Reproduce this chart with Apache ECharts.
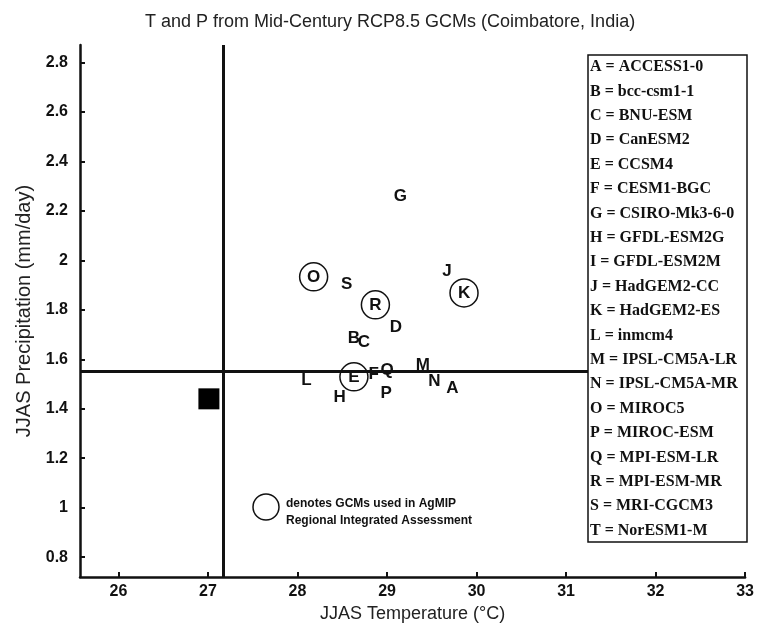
<!DOCTYPE html>
<html><head><meta charset="utf-8">
<script src="https://cdn.jsdelivr.net/npm/echarts@6/dist/echarts.min.js"></script>
<style>html,body{margin:0;padding:0;background:#fff}#c{width:757px;height:634px}</style>
</head><body><div id="c"></div>
<script>
// GCM letters plotted and their mid-century JJAS temperature / precipitation
const letters = ['A','B','C','D','E','F','G','H','J','K','L','M','N','O','P','Q','R','S'];
const temps   = [29.73,28.63,28.74,29.10,28.63,28.85,29.15,28.47,29.67,29.86,28.10,29.40,29.53,28.18,28.99,29.00,28.87,28.55];
const precs   = [1.482,1.685,1.667,1.728,1.529,1.540,2.257,1.448,1.955,1.868,1.513,1.577,1.509,1.933,1.464,1.554,1.820,1.901];
// GCMs used in AgMIP Regional Integrated Assessment (circled)
const agmipLetters = ['E','K','O','R'];
// Baseline (black square)
const baselineTemp = [27.01];
const baselinePrec = [1.44];
// Reference lines
const refTemp = 27.17;
const refPrec = 1.555;
// Legend key
const keyLetters = ['A','B','C','D','E','F','G','H','I','J','K','L','M','N','O','P','Q','R','S','T'];
const keyModels = ['ACCESS1-0','bcc-csm1-1','BNU-ESM','CanESM2','CCSM4','CESM1-BGC','CSIRO-Mk3-6-0','GFDL-ESM2G','GFDL-ESM2M','HadGEM2-CC','HadGEM2-ES','inmcm4','IPSL-CM5A-LR','IPSL-CM5A-MR','MIROC5','MIROC-ESM','MPI-ESM-LR','MPI-ESM-MR','MRI-CGCM3','NorESM1-M'];
// Tick labels
const xTicks = [26,27,28,29,30,31,32,33];
const yTicks = [0.8,1,1.2,1.4,1.6,1.8,2,2.2,2.4,2.6,2.8];

const ink = '#111';
const letterData = letters.map((l,i)=>({name:l, value:[temps[i],precs[i]]}));
const circleData = agmipLetters.map(l=>{const i=letters.indexOf(l);return [temps[i],precs[i]];});

const keyGraphics = keyLetters.map((l,i)=>({
  type:'text', z:101, left:590, top:59+i*24.4,
  style:{text:l+' = '+keyModels[i], font:'bold 16px "Liberation Serif"', fill:ink}
}));

const chart = echarts.init(document.getElementById('c'));
chart.setOption({
  animation:false,
  backgroundColor:'#fff',
  title:{text:'T and P from Mid-Century RCP8.5 GCMs (Coimbatore, India)', left:140, top:8,
    textStyle:{fontFamily:'Liberation Sans', fontWeight:'normal', fontSize:18, color:'#222'}},
  grid:{left:80, right:9, top:45, bottom:57},
  xAxis:{type:'value', min:25.57, max:33,
    name:'JJAS Temperature (°C)', nameLocation:'middle', nameGap:26,
    nameTextStyle:{fontFamily:'Liberation Sans', fontSize:18, color:'#222'},
    axisLine:{lineStyle:{color:ink, width:2.5}},
    axisTick:{inside:true, length:5, lineStyle:{width:2,color:ink}, customValues:xTicks},
    axisLabel:{customValues:xTicks, margin:7, fontFamily:'Liberation Sans', fontWeight:'bold', fontSize:16, color:ink},
    splitLine:{show:false}},
  yAxis:{type:'value', min:0.72, max:2.87,
    name:'JJAS Precipitation (mm/day)', nameLocation:'middle', nameGap:46,
    nameTextStyle:{fontFamily:'Liberation Sans', fontSize:20, color:'#222'},
    axisLine:{show:true, lineStyle:{color:ink, width:2.5}},
    axisTick:{show:true, inside:true, length:5, lineStyle:{width:2,color:ink}, customValues:yTicks},
    axisLabel:{customValues:yTicks, margin:12, fontFamily:'Liberation Sans', fontWeight:'bold', fontSize:16, color:ink},
    splitLine:{show:false}},
  series:[
    {type:'scatter', name:'baseline', symbol:'rect', symbolSize:21,
     itemStyle:{color:'#000', opacity:1}, z:3,
     data: baselineTemp.map((t,i)=>[t, baselinePrec[i]]),
     markLine:{silent:true, symbol:['none','none'], label:{show:false},
       lineStyle:{color:ink, width:3, type:'solid', opacity:1},
       data:[{xAxis:refTemp},{yAxis:refPrec}]}},
    {type:'scatter', name:'agmip', symbol:'circle', symbolSize:28,
     itemStyle:{color:'rgba(0,0,0,0)', borderColor:ink, borderWidth:1.5, opacity:1}, z:4,
     data:circleData},
    {type:'scatter', name:'gcms', symbol:'circle', symbolSize:1,
     itemStyle:{color:'rgba(0,0,0,0)', opacity:1}, z:5,
     label:{show:true, position:'inside', formatter:p=>p.name, opacity:1,
       fontFamily:'Liberation Sans', fontWeight:'bold', fontSize:17, color:ink},
     data:letterData}
  ],
  graphic:[
    {type:'rect', z:100, shape:{x:588, y:55, width:159, height:487},
     style:{fill:'#fff', stroke:ink, lineWidth:1.5}},
    ...keyGraphics,
    {type:'circle', z:100, shape:{cx:266, cy:507, r:13}, style:{fill:'none', stroke:ink, lineWidth:1.5}},
    {type:'text', z:100, left:286, top:495, style:{text:'denotes GCMs used in AgMIP\nRegional Integrated Assessment',
      font:'bold 12px "Liberation Sans"', fill:ink, lineHeight:17}}
  ]
});
</script></body></html>
